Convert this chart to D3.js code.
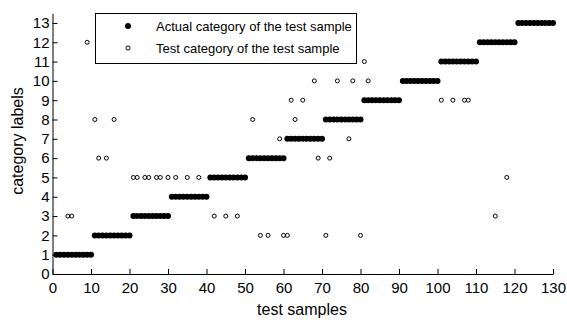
<!DOCTYPE html>
<html>
<head>
<meta charset="utf-8">
<script src="https://cdn.jsdelivr.net/npm/d3@7"></script>
<style>
  body { margin: 0; background: #fff; }
  svg { display: block; }
  .tick text { font-family: 'Liberation Sans Narrow', 'Liberation Sans', Arial, sans-serif; font-size: 15px; fill: #000; }
</style>
</head>
<body>
<script>
// sample indices 1..130
const samples = [
  1, 2, 3, 4, 5, 6, 7, 8, 9, 10,
  11, 12, 13, 14, 15, 16, 17, 18, 19, 20,
  21, 22, 23, 24, 25, 26, 27, 28, 29, 30,
  31, 32, 33, 34, 35, 36, 37, 38, 39, 40,
  41, 42, 43, 44, 45, 46, 47, 48, 49, 50,
  51, 52, 53, 54, 55, 56, 57, 58, 59, 60,
  61, 62, 63, 64, 65, 66, 67, 68, 69, 70,
  71, 72, 73, 74, 75, 76, 77, 78, 79, 80,
  81, 82, 83, 84, 85, 86, 87, 88, 89, 90,
  91, 92, 93, 94, 95, 96, 97, 98, 99, 100,
  101, 102, 103, 104, 105, 106, 107, 108, 109, 110,
  111, 112, 113, 114, 115, 116, 117, 118, 119, 120,
  121, 122, 123, 124, 125, 126, 127, 128, 129, 130
];

const actualCategory = [
  1, 1, 1, 1, 1, 1, 1, 1, 1, 1,
  2, 2, 2, 2, 2, 2, 2, 2, 2, 2,
  3, 3, 3, 3, 3, 3, 3, 3, 3, 3,
  4, 4, 4, 4, 4, 4, 4, 4, 4, 4,
  5, 5, 5, 5, 5, 5, 5, 5, 5, 5,
  6, 6, 6, 6, 6, 6, 6, 6, 6, 6,
  7, 7, 7, 7, 7, 7, 7, 7, 7, 7,
  8, 8, 8, 8, 8, 8, 8, 8, 8, 8,
  9, 9, 9, 9, 9, 9, 9, 9, 9, 9,
  10, 10, 10, 10, 10, 10, 10, 10, 10, 10,
  11, 11, 11, 11, 11, 11, 11, 11, 11, 11,
  12, 12, 12, 12, 12, 12, 12, 12, 12, 12,
  13, 13, 13, 13, 13, 13, 13, 13, 13, 13
];

const testCategory = [
  1, 1, 1, 3, 3, 1, 1, 1, 12, 1,
  8, 6, 2, 6, 2, 8, 2, 2, 2, 2,
  5, 5, 3, 5, 5, 3, 5, 5, 3, 5,
  4, 5, 4, 4, 5, 4, 4, 5, 4, 4,
  5, 3, 5, 5, 3, 5, 5, 3, 5, 5,
  6, 8, 6, 2, 6, 2, 6, 6, 7, 2,
  2, 9, 8, 7, 9, 7, 7, 10, 6, 7,
  2, 6, 8, 10, 8, 8, 7, 10, 8, 2,
  11, 10, 9, 9, 9, 9, 9, 9, 9, 9,
  10, 10, 10, 10, 10, 10, 10, 10, 10, 10,
  9, 11, 11, 9, 11, 11, 9, 9, 11, 11,
  12, 12, 12, 12, 3, 12, 12, 5, 12, 12,
  13, 13, 13, 13, 13, 13, 13, 13, 13, 13
];

const xTicks = [0, 10, 20, 30, 40, 50, 60, 70, 80, 90, 100, 110, 120, 130];
const yTicks = [0, 1, 2, 3, 4, 5, 6, 7, 8, 9, 10, 11, 12, 13];
const legendLabels = ['Actual category of the test sample', 'Test category of the test sample'];

const width = 567;
const height = 320;

const svg = d3.select('body').append('svg')
  .attr('width', width)
  .attr('height', height);

const x = d3.scaleLinear()
  .domain([0, 130])
  .range([52.5, 553]);

const y = d3.scaleLinear()
  .domain([0, 13.5])
  .range([274, 13.3]);

// axes, ticks pointing inward
svg.append('g')
  .attr('class', 'x axis')
  .attr('transform', 'translate(0,' + y(0) + ')')
  .call(d3.axisBottom(x).tickValues(xTicks).tickSizeInner(-5).tickSizeOuter(0).tickPadding(8))
  .call((g) => g.select('.domain').attr('stroke', '#000'));

svg.append('g')
  .attr('class', 'y axis')
  .attr('transform', 'translate(' + x(0) + ',0)')
  .call(d3.axisLeft(y).tickValues(yTicks).tickSizeInner(-5).tickSizeOuter(0).tickPadding(3))
  .call((g) => g.select('.domain').attr('stroke', '#000'));

svg.selectAll('.tick line').attr('stroke', '#000');

// axis titles
svg.append('text')
  .attr('x', 302)
  .attr('y', 315)
  .attr('text-anchor', 'middle')
  .style('font-family', 'Liberation Sans, Arial, sans-serif')
  .style('font-size', '16px')
  .text('test samples');

svg.append('text')
  .attr('transform', 'translate(23,141) rotate(-90)')
  .attr('text-anchor', 'middle')
  .style('font-family', 'Liberation Sans, Arial, sans-serif')
  .style('font-size', '16px')
  .text('category labels');

// points
svg.append('g')
  .attr('class', 'actual')
  .selectAll('circle')
  .data(samples)
  .enter().append('circle')
  .attr('cx', (d) => x(d))
  .attr('cy', (d, i) => y(actualCategory[i]))
  .attr('r', 3)
  .attr('fill', '#000');

svg.append('g')
  .attr('class', 'test')
  .selectAll('circle')
  .data(samples)
  .enter().append('circle')
  .attr('cx', (d) => x(d))
  .attr('cy', (d, i) => y(testCategory[i]))
  .attr('r', 2)
  .attr('fill', 'none')
  .attr('stroke', '#000')
  .attr('stroke-width', 1);

// legend
const legend = svg.append('g').attr('class', 'legend');

legend.append('rect')
  .attr('x', 95.5)
  .attr('y', 13.5)
  .attr('width', 261)
  .attr('height', 50)
  .attr('fill', '#fff')
  .attr('stroke', '#000');

legend.selectAll('circle')
  .data(legendLabels)
  .enter().append('circle')
  .attr('cx', 128)
  .attr('cy', (d, i) => 26 + i * 22)
  .attr('r', (d, i) => i === 0 ? 3 : 2)
  .attr('fill', (d, i) => i === 0 ? '#000' : 'none')
  .attr('stroke', (d, i) => i === 0 ? 'none' : '#000');

legend.selectAll('text')
  .data(legendLabels)
  .enter().append('text')
  .attr('x', 156)
  .attr('y', (d, i) => 30.5 + i * 22)
  .style('font-family', 'Liberation Sans, Arial, sans-serif')
  .style('font-size', '13px')
  .text((d) => d);
</script>
</body>
</html>
